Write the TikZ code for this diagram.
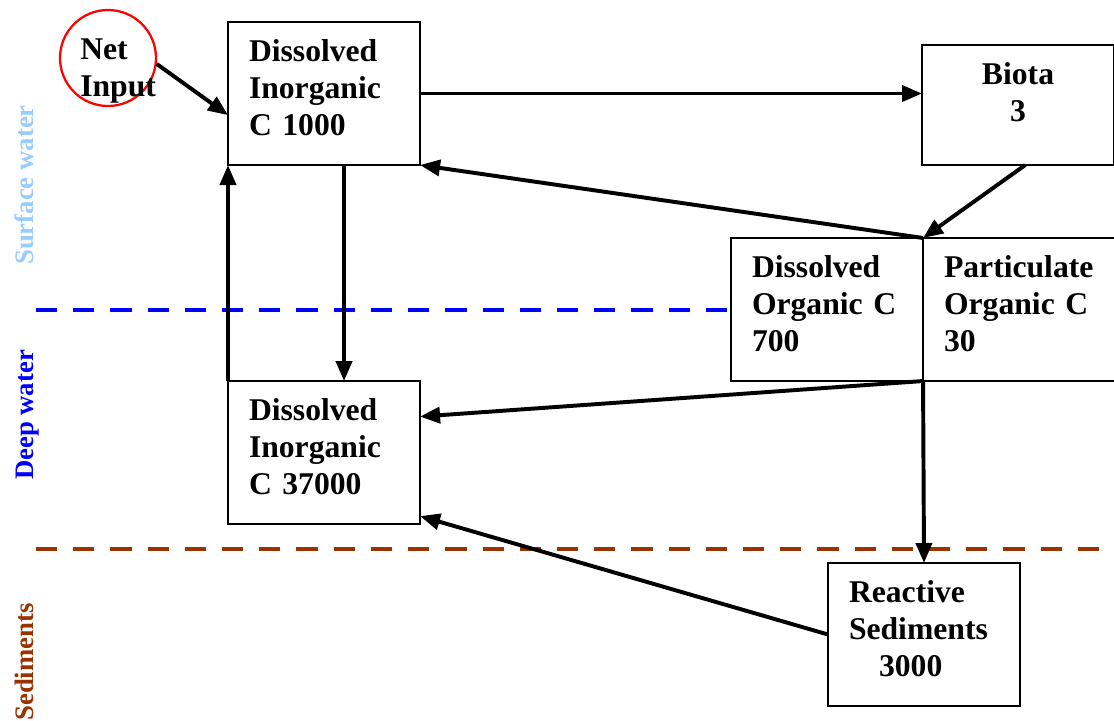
\documentclass[tikz,border=0pt]{standalone}
\usepackage{fontspec}
\setmainfont{Liberation Serif}
\usetikzlibrary{arrows.meta,shapes,positioning,calc}

\definecolor{surfblue}{HTML}{99CCFF}
\definecolor{deepblue}{HTML}{0000FF}
\definecolor{sedbrown}{HTML}{993300}

\tikzset{
    pool/.style={draw,line width=1.3pt,outer sep=0pt,inner xsep=0.525cm,inner ysep=0pt,
        text width=3.75cm,align=left,text height=0.975cm,text depth=2.6cm,
        font=\fontsize{22.5}{26.5}\selectfont\bfseries},% carbon pools
    inflow/.style={circle,draw=red,line width=1.6pt,minimum size=2.4cm,inner sep=0pt},
    tag/.style={inner sep=0pt,align=left,font=\fontsize{22.5}{26.5}\selectfont\bfseries},
    flux/.style={->,line width=2.8pt},
    layer/.style={line width=2.8pt,dash pattern=on 0.53cm off 0.4cm},
    zone/.style={rotate=90,anchor=base,font=\fontsize{19}{22}\selectfont\bfseries}
}

\begin{document}
\begin{tikzpicture}[x=0.025cm,y=-0.025cm,>={Triangle[length=0.5cm,width=0.4cm]}]
    \useasboundingbox (0,0) rectangle (1114,721);

    % layers
    \node [zone,text=surfblue] (surf) at (33,185) {Surface water};
    \node [zone,text=deepblue] (deep) at (33,415) {Deep water};
    \node [zone,text=sedbrown] (sed) at (33,662) {Sediments};

    % pools
    \node [pool,anchor=north west] (dics) at (228,22) {Dissolved\\Inorganic\\C 1000};
    \node [pool,anchor=north west,align=center,text depth=2.025cm] (biota) at (922,45) {Biota\\3};
    \node [pool,anchor=north west] (doc) at (731,238) {Dissolved\\Organic C\\700};
    \node [pool] (poc) [right=0pt of doc] {Particulate\\Organic C\\30};
    \node [pool] (dicd) [below=5.4cm of dics] {Dissolved\\Inorganic\\C 37000};
    \node [pool,anchor=north west] (rs) at (828,563) {Reactive\\Sediments\\\hspace*{0.95em}3000};

    \coordinate (dl) at (36,310);
    \coordinate (sl) at (36,549);
    \coordinate (sr) at (1114,549);
    \draw [layer,deepblue] (dl) -- (dl -| doc.west);
    \draw [layer,sedbrown] (sl) -- (sr);

    \node [inflow] (net) at (108,58) {};
    \node [tag,anchor=west] (nettext) at (80,71) {Net\\Input};

    % fluxes
    \draw [flux] (net.-7) -- ([yshift=-0.54cm]dics.west);
    \draw [flux] (dics.east) -- (dics.east -| biota.west);
    \draw [flux] ([xshift=0.18cm]biota.south) -- (poc.north west);
    \draw [flux] (poc.north west) -- (dics.south east);
    \draw [flux] ([xshift=0.5cm]dics.south) -- ([xshift=0.5cm]dicd.north);
    \draw [flux] (dicd.north west) -- (dics.south west);
    \draw [flux] (poc.south west) -- ([yshift=0.9cm]dicd.east);
    \draw [flux] (poc.south west) -- (rs.north);
    \draw [flux] (rs.west) -- ([yshift=0.2cm]dicd.south east);

\end{tikzpicture}
\end{document}
